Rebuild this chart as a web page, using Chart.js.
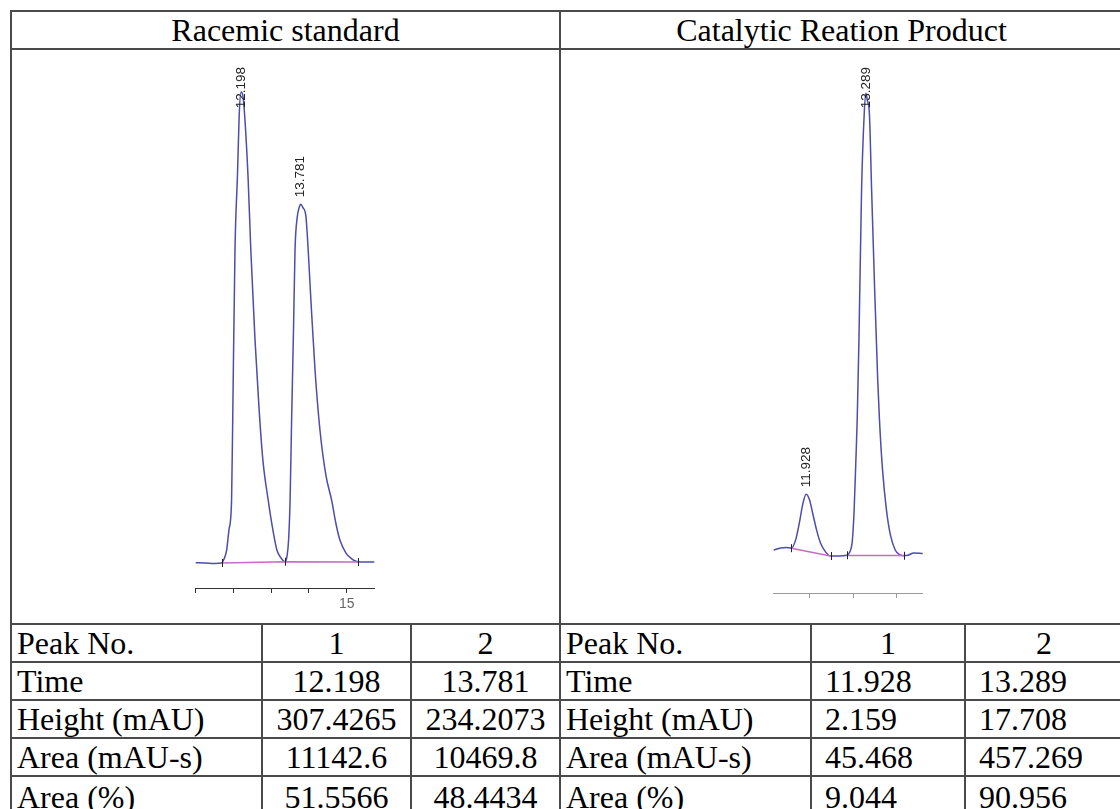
<!DOCTYPE html>
<html>
<head>
<meta charset="utf-8">
<script src="https://cdn.jsdelivr.net/npm/chart.js@4.4.1/dist/chart.umd.min.js"></script>
<style>
  html, body { margin: 0; padding: 0; background: #fff; overflow: hidden; }
  body { width: 1120px; height: 809px; position: relative; }
  .sheet {
    position: absolute; left: 10px; top: 10px;
    display: grid; gap: 2px; padding: 2px 0 0 2px; background: #4a4a4a;
    grid-template-columns: 249px 147px 147px 249px 152px 156px;
    grid-template-rows: 36px 573px 36px 36px 36px 36px 40px;
  }
  .sheet > div {
    background: #fff; color: #000; display: flex; align-items: center; white-space: nowrap;
    font-family: "Liberation Serif", "Times New Roman", serif; font-size: 32px;
  }
  .hd { grid-column: span 3; justify-content: center; }
  .plot { grid-column: span 3; position: relative; }
  .plot canvas { position: absolute; left: 0; top: 0; }
  .lbl { padding-left: 5px; }
  .c { justify-content: center; }
  .l { padding-left: 13px; }
</style>
</head>
<body>
<div class="sheet" id="sheet">
  <div class="hd">Racemic standard</div>
  <div class="hd">Catalytic Reation Product</div>
  <div class="plot"><canvas id="leftChart" width="547" height="573"></canvas></div>
  <div class="plot"><canvas id="rightChart" width="561" height="573"></canvas></div>
</div>
<script>
// --- RACEMIC STANDARD (time in min, signal in mAU) ---
const leftTimes = [11.00, 11.25, 11.51, 11.69, 11.75, 11.82, 11.88, 11.95, 11.98, 12.04, 12.11, 12.15, 12.20, 12.25, 12.30, 12.39, 12.46, 12.57, 12.68, 12.78, 12.92, 13.02, 13.15, 13.26, 13.37, 13.42, 13.46, 13.50, 13.54, 13.59, 13.63, 13.69, 13.74, 13.78, 13.84, 13.92, 13.98, 14.05, 14.16, 14.29, 14.45, 14.60, 14.72, 14.82, 14.98, 15.14, 15.27, 15.48, 15.73];
const leftSignal = [0.2, 0, -0.3, 0, 2.6, 8.5, 21.5, 41, 93, 204, 256, 291, 307.4, 305, 291, 250, 204, 146, 100, 67, 41, 25, 8.5, 3.3, 0.9, 4.6, 15, 41, 93, 152, 204, 226, 232, 234.2, 232, 226, 204, 172, 126, 87, 57, 41, 25, 15, 6.5, 2.6, 1.0, 0.6, 0.6];
const leftBaseTimes = [11.69, 13.37, 15.31];
const leftBaseSignal = [0, 0.85, 0.65];
const leftPeakTimes = [12.198, 13.781];
const leftPeakLabels = ['12.198', '13.781'];
const leftTickValues = [11, 12, 13, 14, 15];
const leftTickLabels = ['', '', '', '', '15'];

// --- CATALYTIC REACTION PRODUCT ---
const rightTimes = [11.18, 11.34, 11.47, 11.58, 11.68, 11.77, 11.84, 11.92, 12.00, 12.07, 12.16, 12.25, 12.37, 12.48, 12.66, 12.85, 12.92, 12.98, 13.02, 13.06, 13.09, 13.13, 13.19, 13.25, 13.29, 13.32, 13.37, 13.42, 13.49, 13.56, 13.60, 13.67, 13.76, 13.85, 13.96, 14.07, 14.16, 14.27, 14.38, 14.59];
const rightSignal = [0.21, 0.29, 0.31, 0.28, 0.59, 1.28, 1.93, 2.35, 2.13, 1.63, 0.98, 0.48, 0.13, -0.02, -0.02, 0.01, 0.13, 0.59, 1.74, 3.66, 5.19, 8.26, 14.0, 16.9, 17.71, 17.45, 16.9, 14.0, 10.17, 6.72, 5.19, 3.28, 1.74, 0.79, 0.21, 0.02, -0.01, 0.02, 0.10, 0.08];
const rightBaseTimes = [11.58, 12.48, 12.66, 12.85, 14.16];
const rightBaseSignal = [0.28, -0.02, null, 0, 0];
const rightMarkTimes = [11.58, 12.48, 12.85, 14.16];
const rightPeakTimes = [11.928, 13.289];
const rightPeakLabels = ['11.928', '13.289'];
const rightTickValues = [12, 13, 14];
const rightTickLabels = ['', '', ''];

// --- PEAK TABLE ---
const rowNames = ['Peak No.', 'Time', 'Height (mAU)', 'Area (mAU-s)', 'Area (%)'];
const leftTable = [['1', '2'], ['12.198', '13.781'], ['307.4265', '234.2073'], ['11142.6', '10469.8'], ['51.5566', '48.4434']];
const rightTable = [['1', '2'], ['11.928', '13.289'], ['2.159', '17.708'], ['45.468', '457.269'], ['9.044', '90.956']];

function buildTable() {
    const sheet = document.getElementById('sheet');
    rowNames.forEach((name, r) => {
        const cells = [
            [name, 'lbl'], [leftTable[r][0], 'c'], [leftTable[r][1], 'c'],
            [name, 'lbl'], [rightTable[r][0], r === 0 ? 'c' : 'l'], [rightTable[r][1], r === 0 ? 'c' : 'l']
        ];
        cells.forEach(([txt, cls]) => {
            const d = document.createElement('div');
            d.className = cls;
            d.textContent = txt;
            sheet.appendChild(d);
        });
    });
}

const pts = (xs, ys) => xs.map((t, i) => ({ x: t, y: ys[i] }));

// peak labels + integration marks
const peakMarks = {
    id: 'peakMarks',
    afterDatasetsDraw(chart, args, o) {
        const { ctx, scales: { x, y } } = chart;
        ctx.save();
        ctx.strokeStyle = '#222';
        ctx.lineWidth = 1;
        o.marks.forEach(m => {
            const px = Math.round(x.getPixelForValue(m.x)) + 0.5;
            const py = y.getPixelForValue(m.y);
            ctx.beginPath();
            ctx.moveTo(px, py - 4);
            ctx.lineTo(px, py + 4);
            ctx.stroke();
        });
        ctx.font = '13.5px "Liberation Sans", Arial, sans-serif';
        ctx.fillStyle = '#222';
        ctx.textAlign = 'left';
        ctx.textBaseline = 'middle';
        o.times.forEach((t, i) => {
            let apex = -Infinity;
            o.series.forEach(p => { if (Math.abs(p.x - t) < 0.08) apex = Math.max(apex, p.y); });
            const px = x.getPixelForValue(t);
            const py = y.getPixelForValue(apex);
            const w = ctx.measureText(o.labels[i]).width;
            const start = Math.max(py - 7, o.top + w);
            ctx.save();
            ctx.translate(px, start);
            ctx.rotate(-Math.PI / 2);
            ctx.fillText(o.labels[i], 0, 0);
            ctx.restore();
        });
        ctx.restore();
    }
};

function makeChart(id, cfg) {
    const trace = pts(cfg.times, cfg.signal);
    return new Chart(document.getElementById(id), {
        type: 'scatter',
        data: {
            datasets: [
                { data: pts(cfg.baseTimes, cfg.baseSignal), showLine: true, borderColor: '#c76bc7', borderWidth: 1.4, pointRadius: 0 },
                { data: trace, showLine: true, borderColor: '#4d4daa', borderWidth: 1.5, pointRadius: 0, cubicInterpolationMode: 'monotone' }
            ]
        },
        options: {
            responsive: false,
            animation: false,
            clip: false,
            layout: { padding: cfg.padding },
            plugins: {
                legend: { display: false },
                tooltip: { enabled: false },
                peakMarks: { marks: cfg.marks, times: cfg.peakTimes, labels: cfg.peakLabels, series: trace, top: 17 }
            },
            scales: {
                x: {
                    type: 'linear', min: cfg.xMin, max: cfg.xMax,
                    afterBuildTicks: s => { s.ticks = cfg.tickValues.map(v => ({ value: v })); },
                    afterFit: s => { s.height = cfg.axisHeight; },
                    border: { color: cfg.axisColor, width: 1 },
                    grid: { drawOnChartArea: false, tickLength: 5, color: cfg.axisColor },
                    ticks: {
                        padding: 3, color: '#666', maxRotation: 0, autoSkip: false,
                        font: { family: '"Liberation Sans", Arial, sans-serif', size: 14 },
                        callback: (v, i) => cfg.tickLabels[i]
                    }
                },
                y: { display: false, min: cfg.yMin, max: cfg.yMax }
            }
        },
        plugins: [peakMarks]
    });
}

window.onload = () => {
    buildTable();
    makeChart('leftChart', {
        times: leftTimes, signal: leftSignal, baseTimes: leftBaseTimes, baseSignal: leftBaseSignal,
        marks: pts(leftBaseTimes, leftBaseSignal), peakTimes: leftPeakTimes, peakLabels: leftPeakLabels,
        tickValues: leftTickValues, tickLabels: leftTickLabels,
        xMin: 11, xMax: 15.73, yMin: -16.3, yMax: 315.3,
        padding: { left: 183.7, right: 184.7, top: 30, bottom: 5 }, axisHeight: 30, axisColor: '#333'
    });
    makeChart('rightChart', {
        times: rightTimes, signal: rightSignal, baseTimes: rightBaseTimes, baseSignal: rightBaseSignal,
        marks: rightMarkTimes.map(t => ({ x: t, y: rightSignal[rightTimes.indexOf(t)] })),
        peakTimes: rightPeakTimes, peakLabels: rightPeakLabels,
        tickValues: rightTickValues, tickLabels: rightTickLabels,
        xMin: 11.17, xMax: 14.58, yMin: -1.437, yMax: 18.22,
        padding: { left: 212.3, right: 199.7, top: 30, bottom: 5 }, axisHeight: 25, axisColor: '#9a9a9a'
    });
};
</script>
</body>
</html>
